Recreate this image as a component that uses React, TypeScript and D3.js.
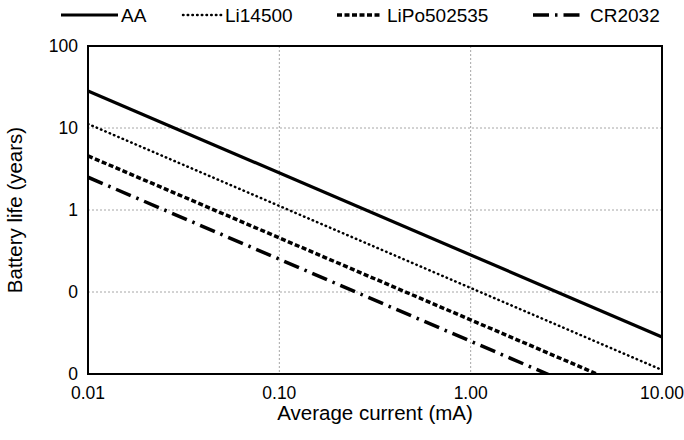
import React from "react";
import * as d3 from "d3";

const currents = [0.01, 10];
const seriesNames = ["AA", "Li14500", "LiPo502535", "CR2032"];
const lifeAA = [28.3, 0.0283];
const lifeLi14500 = [11.2, 0.0112];
const lifeLiPo = [4.57, 0.00457];
const lifeCR2032 = [2.51, 0.00251];
const xTicks = [0.01, 0.1, 1, 10];
const xTickLabels = ["0.01", "0.10", "1.00", "10.00"];
const yTicks = [0.01, 0.1, 1, 10, 100];
const yTickLabels = ["0", "0", "1", "10", "100"];

const W = 684, H = 440;
const M = { left: 88, right: 662, top: 46, bottom: 374 };
const FONT = "Liberation Sans, Arial, sans-serif";

const styles = [
  { width: 3.2, dash: "none", cap: "butt" },
  { width: 2.5, dash: "0.5 4.2", cap: "round" },
  { width: 3.5, dash: "5 2.5", cap: "butt" },
  { width: 3.5, dash: "16 6 2.5 6", cap: "butt" },
];

export default function App() {
  const x = d3.scaleLog().domain([0.01, 10]).range([M.left, M.right]);
  const y = d3.scaleLog().domain([0.01, 100]).range([M.bottom, M.top]);
  const series = [lifeAA, lifeLi14500, lifeLiPo, lifeCR2032];
  const line = d3
    .line<number>()
    .x((_, i) => x(currents[i]))
    .y((d) => y(d));

  const legendItems = [
    { x0: 61, x1: 118, tx: 121 },
    { x0: 183, x1: 222, tx: 225 },
    { x0: 337, x1: 382, tx: 387 },
    { x0: 533, x1: 585, tx: 590 },
  ];

  return (
    <svg width={W} height={H} style={{ position: "absolute", left: 0, top: 0 }} fontFamily={FONT}>
      <defs>
        <clipPath id="plot">
          <rect x={M.left} y={M.top} width={M.right - M.left} height={M.bottom - M.top} />
        </clipPath>
      </defs>
      <rect width={W} height={H} fill="#fff" />
      {yTicks.slice(1, -1).map((t) => (
        <line key={"gy" + t} x1={M.left} x2={M.right} y1={y(t)} y2={y(t)} stroke="#a6a6a6" strokeWidth={1} strokeDasharray="2 2" />
      ))}
      {xTicks.slice(1, -1).map((t) => (
        <line key={"gx" + t} y1={M.top} y2={M.bottom} x1={x(t)} x2={x(t)} stroke="#a6a6a6" strokeWidth={1} strokeDasharray="2 2" />
      ))}
      <g clipPath="url(#plot)">
        {series.map((s, i) => (
          <path
            key={seriesNames[i]}
            d={line(s) || ""}
            fill="none"
            stroke="#000"
            strokeWidth={styles[i].width}
            strokeDasharray={styles[i].dash}
            strokeLinecap={styles[i].cap as any}
          />
        ))}
      </g>
      <rect x={M.left} y={M.top} width={M.right - M.left} height={M.bottom - M.top} fill="none" stroke="#000" strokeWidth={2} />
      {yTicks.map((t, i) => (
        <text key={"yl" + i} x={78} y={y(t)} dy="0.35em" textAnchor="end" fontSize={17.5} fill="#000">
          {yTickLabels[i]}
        </text>
      ))}
      {xTicks.map((t, i) => (
        <text key={"xl" + i} x={x(t)} y={399} textAnchor="middle" fontSize={17.5} fill="#000">
          {xTickLabels[i]}
        </text>
      ))}
      <text x={(M.left + M.right) / 2} y={420} textAnchor="middle" fontSize={20.5} fill="#000">
        Average current (mA)
      </text>
      <text transform={`translate(22,210) rotate(-90)`} textAnchor="middle" fontSize={20.5} fill="#000">
        Battery life (years)
      </text>
      {legendItems.map((it, i) => (
        <g key={"lg" + i}>
          <line
            x1={it.x0}
            x2={it.x1}
            y1={15}
            y2={15}
            stroke="#000"
            strokeWidth={styles[i].width}
            strokeDasharray={styles[i].dash}
            strokeLinecap={styles[i].cap as any}
          />
          <text x={it.tx} y={15} dy="0.35em" fontSize={19} fill="#000">
            {seriesNames[i]}
          </text>
        </g>
      ))}
    </svg>
  );
}
